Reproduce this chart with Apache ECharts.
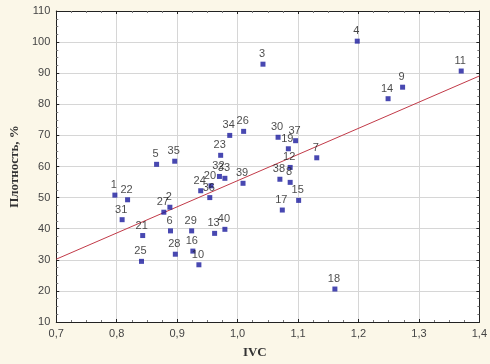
<!DOCTYPE html>
<html>
<head>
<meta charset="utf-8">
<script src="https://cdn.jsdelivr.net/npm/echarts@6/dist/echarts.min.js"></script>
<style>
html, body { margin: 0; padding: 0; background: #fbf7e8; }
#myChart { width: 490px; height: 364px; }
</style>
</head>
<body>
<div id="myChart"></div>
<script>
// номера точек, IVC и плотность
var pointIds = [1, 2, 3, 4, 5, 6, 7, 8, 9, 10,
  11, 12, 13, 14, 15, 16, 17, 18, 19, 20,
  21, 22, 23, 24, 25, 26, 27, 28, 29, 30,
  31, 32, 33, 34, 35, 36, 37, 38, 39, 40];
var ivc = [0.797, 0.888, 1.042, 1.198, 0.866, 0.889, 1.131, 1.087, 1.273, 0.936,
  1.370, 1.087, 0.962, 1.249, 1.101, 0.926, 1.074, 1.161, 1.084, 0.956,
  0.843, 0.818, 0.972, 0.939, 0.841, 1.010, 0.878, 0.897, 0.924, 1.067,
  0.809, 0.970, 0.979, 0.987, 0.896, 0.954, 1.096, 1.070, 1.009, 0.979];
var density = [50.8, 46.9, 92.9, 100.3, 60.7, 39.3, 62.8, 54.9, 85.5, 28.4,
  90.7, 59.7, 38.5, 81.8, 49.1, 32.8, 46.0, 20.6, 65.7, 53.8,
  37.8, 49.3, 63.6, 52.2, 29.5, 71.3, 45.3, 31.8, 39.3, 69.4,
  42.9, 56.8, 56.2, 70.0, 61.7, 50.0, 68.3, 55.9, 54.6, 39.8];
// линия регрессии (концы)
var fitX = [0.7, 1.4];
var fitY = [30.2, 89.1];

var points = [];
for (var i = 0; i < pointIds.length; i++) {
  points.push({ name: String(pointIds[i]), value: [ivc[i], density[i]] });
}
var fitLine = [];
for (var j = 0; j < fitX.length; j++) {
  fitLine.push([fitX[j], fitY[j]]);
}

var myChart = echarts.init(document.getElementById("myChart"));
var axisCol = "#222";
myChart.setOption({
  backgroundColor: "#fbf7e8",
  animation: false,
  grid: {
    left: 47, right: 10, top: 11, bottom: 42,
    show: true, backgroundColor: "#ffffff", borderWidth: 0
  },
  xAxis: [
    {
      type: "value", min: 0.7, max: 1.4, interval: 0.1,
      name: "IVC", nameLocation: "middle", nameGap: 24,
      nameTextStyle: { fontFamily: "Liberation Serif", fontWeight: "bold", fontSize: 13, color: "#333", padding: [0, 26, 0, 0] },
      axisLine: { lineStyle: { color: axisCol, width: 1 } },
      axisTick: { inside: true, length: 3, lineStyle: { color: axisCol } },
      minorTick: { show: true, splitNumber: 4, length: 2, lineStyle: { color: "#777" } },
      axisLabel: {
        margin: 6, fontFamily: "Liberation Sans", fontSize: 11, color: "#444",
        formatter: function (v) { return v.toFixed(1).replace(".", ","); }
      },
      splitLine: { lineStyle: { color: "#d6d6d6" } }
    },
    {
      type: "value", position: "top", min: 0.7, max: 1.4, interval: 0.1,
      axisLine: { show: true, lineStyle: { color: axisCol, width: 1 } },
      axisTick: { inside: true, length: 3, lineStyle: { color: axisCol } },
      minorTick: { show: true, splitNumber: 4, length: 2, lineStyle: { color: "#777" } },
      axisLabel: { show: false }, splitLine: { show: false }
    }
  ],
  yAxis: [
    {
      type: "value", min: 10, max: 110, interval: 10,
      name: "Плотность, %", nameLocation: "middle", nameGap: 26,
      nameTextStyle: { fontFamily: "Liberation Serif", fontWeight: "bold", fontSize: 13, color: "#333" },
      axisLine: { show: true, lineStyle: { color: axisCol, width: 1 } },
      axisTick: { inside: true, length: 3, lineStyle: { color: axisCol } },
      minorTick: { show: true, splitNumber: 4, length: 2, lineStyle: { color: "#777" } },
      axisLabel: { margin: 6, fontFamily: "Liberation Sans", fontSize: 11, color: "#444" },
      splitLine: { lineStyle: { color: "#d6d6d6" } }
    },
    {
      type: "value", position: "right", min: 10, max: 110, interval: 10,
      axisLine: { show: true, lineStyle: { color: axisCol, width: 1 } },
      axisTick: { inside: true, length: 3, lineStyle: { color: axisCol } },
      minorTick: { show: true, splitNumber: 4, length: 2, lineStyle: { color: "#777" } },
      axisLabel: { show: false }, splitLine: { show: false }
    }
  ],
  series: [
    {
      name: "регрессия",
      type: "line",
      data: fitLine,
      showSymbol: false,
      lineStyle: { color: "#c23a48", width: 1 },
      silent: true,
      z: 2
    },
    {
      name: "точки",
      type: "scatter",
      data: points,
      symbol: "rect",
      symbolSize: 5,
      itemStyle: { color: "#1a1a9e" },
      label: {
        show: true,
        position: "top",
        distance: 2,
        offset: [-1, 0],
        formatter: "{b}",
        fontFamily: "Liberation Sans",
        fontSize: 11,
        color: "#1a1a1a"
      },
      z: 3
    }
  ]
});
</script>
</body>
</html>
